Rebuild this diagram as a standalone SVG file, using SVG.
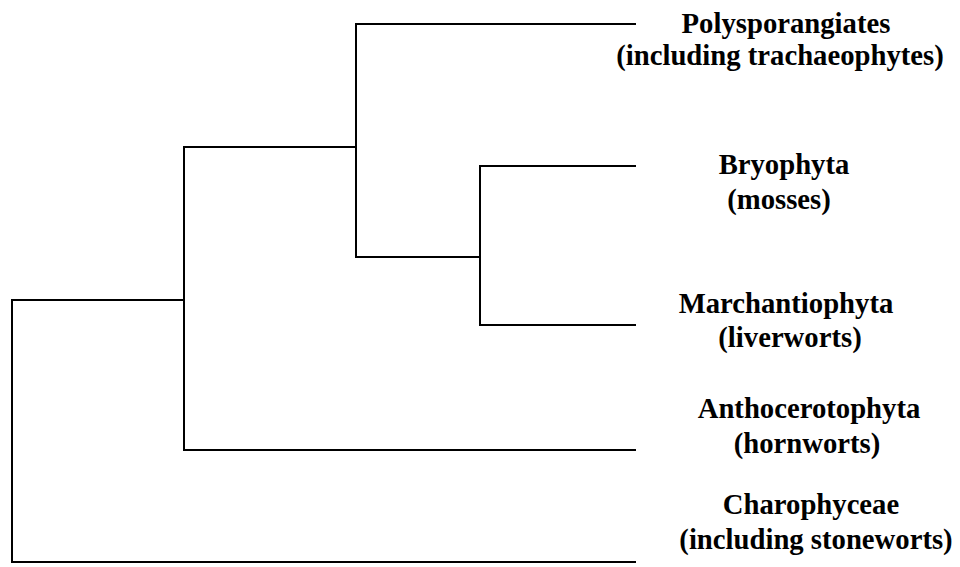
<svg xmlns="http://www.w3.org/2000/svg" width="960" height="567" viewBox="0 0 960 567">
<style>
.e{fill:none;stroke:#000;stroke-width:2;stroke-linecap:square}
.t{font-family:"Liberation Serif","Times New Roman",serif;font-weight:bold;font-size:28.7px;fill:#000;text-anchor:middle}
</style>
<rect width="960" height="567" fill="#fff"/>
<g id="connectors">
<path class="e" d="M635,562 H12 V300 H184"/>
<path class="e" d="M635,450 H184 V147 H356"/>
<path class="e" d="M635,24 H356 V257 H480"/>
<path class="e" d="M635,166 H480 V325 H635"/>
</g>
<g id="polysporangiates"><text class="t" x="786" y="33">Polysporangiates</text><text class="t" x="780" y="65">(including trachaeophytes)</text></g>
<g id="bryophyta"><text class="t" x="784" y="174">Bryophyta</text><text class="t" x="779" y="209">(mosses)</text></g>
<g id="marchantiophyta"><text class="t" x="786" y="313">Marchantiophyta</text><text class="t" x="790" y="347">(liverworts)</text></g>
<g id="anthocerotophyta"><text class="t" x="809" y="418">Anthocerotophyta</text><text class="t" x="807" y="453">(hornworts)</text></g>
<g id="charophyceae"><text class="t" x="811" y="514">Charophyceae</text><text class="t" x="816" y="549">(including stoneworts)</text></g>
</svg>
